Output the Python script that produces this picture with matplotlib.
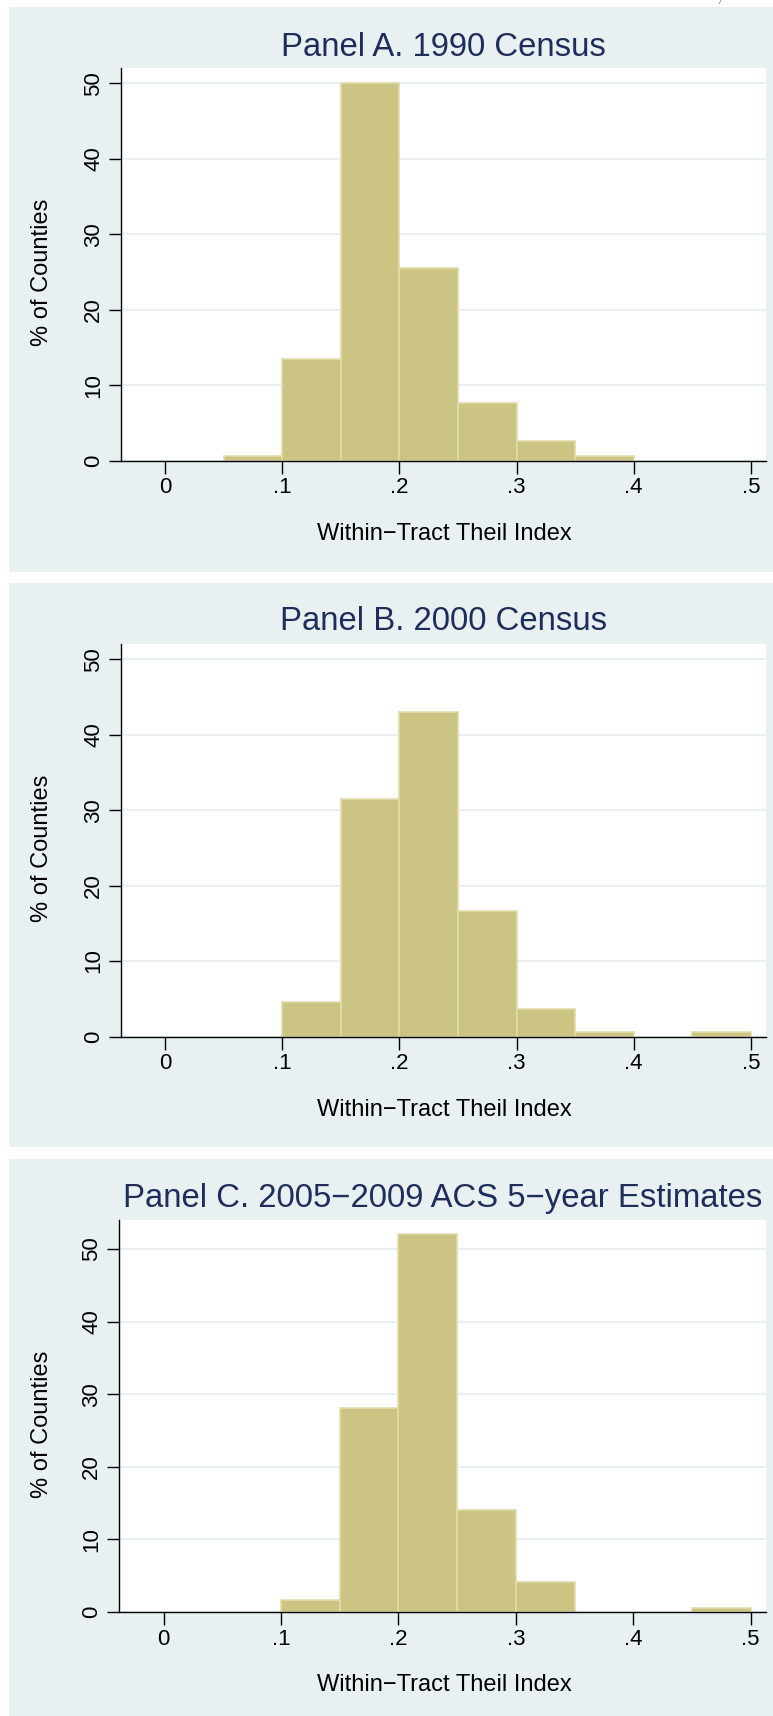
import matplotlib
matplotlib.use("Agg")
import matplotlib.pyplot as plt
from matplotlib.patches import Rectangle
import numpy as np

plt.rcParams['font.family'] = ['Liberation Sans', 'DejaVu Sans']

# ---- data ----
bin_edges = [0.0, 0.05, 0.10, 0.15, 0.20, 0.25, 0.30, 0.35, 0.40, 0.45, 0.50]
pct_1990 = [0.0, 0.6, 13.5, 50.1, 25.5, 7.6, 2.6, 0.6, 0.0, 0.0]
pct_2000 = [0.0, 0.0, 4.6, 31.5, 43.0, 16.6, 3.6, 0.6, 0.0, 0.6]
pct_acs = [0.0, 0.0, 1.6, 28.1, 52.1, 14.0, 4.1, 0.0, 0.0, 0.6]
titles = ["Panel A. 1990 Census", "Panel B. 2000 Census",
          "Panel C. 2005\u22122009 ACS 5\u2212year Estimates"]
xticks = [0, 0.1, 0.2, 0.3, 0.4, 0.5]
xticklabels = ["0", ".1", ".2", ".3", ".4", ".5"]
yticks = [0, 10, 20, 30, 40, 50]
xlabel = "Within\u2212Tract Theil Index"
ylabel = "% of Counties"
ylims = [52, 52, 54]

W, H = 773, 1716
fig = plt.figure(figsize=(W / 100, H / 100), dpi=100)
fig.patch.set_facecolor("white")

BG = "#e8f0f2"
BAR = "#cbc483"
BAR_EDGE = "#e0dcaa"
TITLE_C = "#1e2d5a"

def fx(x):
    return x / W

def fy(y):
    return 1 - y / H

# panel layouts: (panel_top, panel_bottom, plot_top, plot_bottom, plot_left)
panels = [
    (7, 572, 68.4, 460.7, 120.7),
    (583, 1147, 644.2, 1036.5, 120.7),
    (1159, 1716, 1220, 1612, 119.0),
]
title_y = [47, 622, 1198]
data = [pct_1990, pct_2000, pct_acs]

for i, (pt, pb, at, ab, al) in enumerate(panels):
    fig.add_artist(Rectangle((fx(9), fy(pb)), fx(W - 9), (pb - pt) / H,
                             transform=fig.transFigure, facecolor=BG,
                             edgecolor="none", zorder=0))
    ar = 766
    ax = fig.add_axes([fx(al), fy(ab), fx(ar - al), (ab - at) / H])
    ax.set_facecolor("white")
    lefts = np.array(bin_edges[:-1])
    widths = np.diff(bin_edges)
    vals = np.array(data[i])
    mask = vals > 0
    ax.bar(lefts[mask], vals[mask], width=widths[mask], align="edge",
           color=BAR, edgecolor=BAR_EDGE, linewidth=1.2, zorder=3)
    ax.set_xlim(-0.038, 0.513)
    ax.set_ylim(0, ylims[i])
    ax.set_xticks(xticks)
    ax.set_xticklabels(xticklabels)
    ax.set_yticks(yticks)
    ax.set_yticklabels([str(v) for v in yticks], rotation=90, va="center")
    ax.tick_params(axis="both", length=9, width=1.0, color="black",
                   labelsize=16, labelcolor="black")
    ax.tick_params(axis="x", pad=3)
    ax.tick_params(axis="y", pad=3)
    ax.grid(axis="y", color=BG, linewidth=1.5, zorder=1)
    ax.set_axisbelow(True)
    for s in ["top", "right"]:
        ax.spines[s].set_visible(False)
    for s in ["left", "bottom"]:
        ax.spines[s].set_linewidth(1.0)
        ax.spines[s].set_color("black")
        ax.spines[s].set_zorder(5)
    # title
    fig.text(fx((al + ar) / 2), fy(title_y[i]), titles[i], ha="center",
             va="center", fontsize=23.7, color=TITLE_C)
    # x label
    fig.text(fx(444), fy(ab + 73), xlabel, ha="center", va="center",
             fontsize=17, color="black")
    # y label
    fig.text(fx(42), fy((at + ab) / 2 + 8), ylabel, ha="center",
             va="center", rotation=90, fontsize=17, color="black")

fig.text(fx(720), fy(3), "/", ha="center", va="center", fontsize=6,
         color="#555555", style="italic")

fig.savefig("out.png", dpi=100, facecolor="white")
